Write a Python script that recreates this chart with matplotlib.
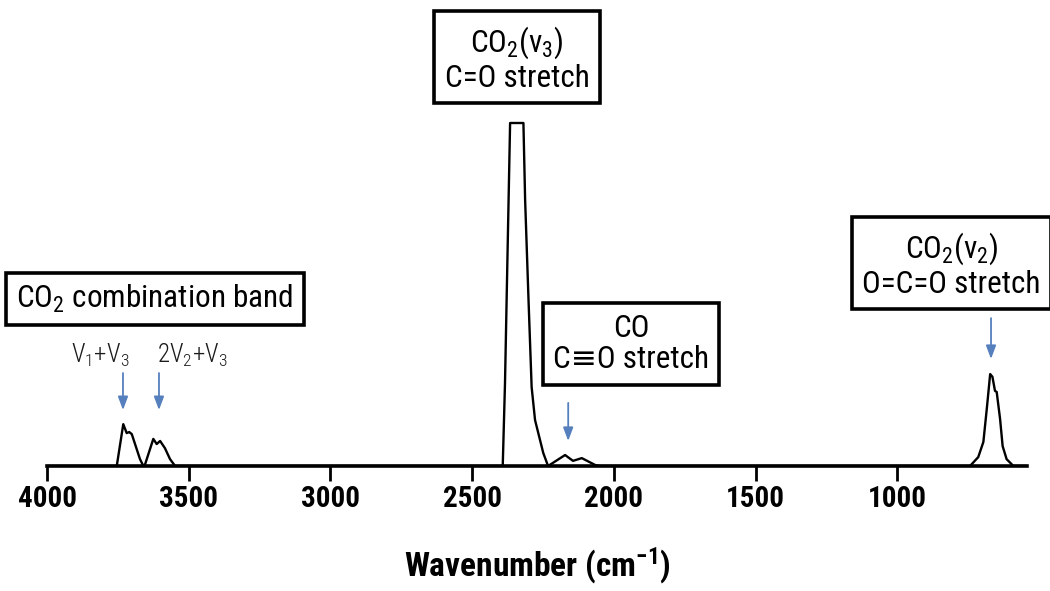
import matplotlib
matplotlib.use('Agg')
import matplotlib.pyplot as plt

# 窄体字体，刻度和标注都用它
plt.rcParams['font.family'] = ['Roboto Condensed', 'DejaVu Sans']
plt.rcParams['mathtext.fontset'] = 'custom'
plt.rcParams['mathtext.rm'] = 'Roboto Condensed'

# 读出的FTIR谱线 (波数 cm-1, 吸光度)
wavenumber = [4000, 3754, 3731, 3719, 3710, 3701, 3672, 3660, 3654, 3625, 3613,
              3601, 3584, 3566, 3548,
              2392, 2384, 2376, 2366, 2319, 2313, 2301, 2290, 2278, 2249, 2232,
              2172, 2144, 2113, 2066, 2048,
              743, 714, 696, 684, 672, 664, 655, 649, 637, 628, 614, 590, 542]
absorbance = [0.0, 0.0, 0.122, 0.096, 0.099, 0.093, 0.020, 0.0, 0.005, 0.079, 0.064,
              0.073, 0.052, 0.020, 0.0,
              0.0, 0.242, 0.580, 1.0, 1.0, 0.776, 0.484, 0.230, 0.134, 0.038, 0.0,
              0.032, 0.015, 0.023, 0.003, 0.0,
              0.0, 0.026, 0.070, 0.166, 0.268, 0.260, 0.219, 0.216, 0.137, 0.058, 0.020, 0.0, 0.0]

xticks = [4000, 3500, 3000, 2500, 2000, 1500, 1000]

# 标注框: 文字, x, y
band_labels = [r'$\mathregular{CO_2(v_3)}$' + '\nC=O stretch',
               'CO\nC\u2261O stretch',
               r'$\mathregular{CO_2(v_2)}$' + '\nO=C=O stretch',
               r'$\mathregular{CO_2}$ combination band']
band_x = [2341, 1939, 808, 3619]
band_y = [1.188, 0.356, 0.586, 0.487]

# 箭头: x, 起点y, 终点y
arrow_x = [3732, 3605, 2161, 669]
arrow_top = [0.271, 0.271, 0.184, 0.431]
arrow_tip = [0.163, 0.163, 0.073, 0.312]

blue = '#5580BD'

fig = plt.figure(figsize=(10.5, 5.91), dpi=100)
ax = fig.add_axes([0.0448, 0.2115, 0.9333, 0.7885])

ax.plot(wavenumber, absorbance, color='black', lw=1.7, solid_joinstyle='round')
ax.set_xlim(4000, 542)
ax.set_ylim(0, 1.3586)

for s in ['left', 'right', 'top']:
    ax.spines[s].set_visible(False)
ax.spines['bottom'].set_linewidth(2.6)
ax.set_yticks([])
ax.set_xticks(xticks)
ax.tick_params(axis='x', direction='out', length=11, width=2, pad=3, labelsize=21)
for lab in ax.get_xticklabels():
    lab.set_fontweight('bold')
ax.set_xlabel(r'Wavenumber (cm$\mathregular{^{-1}}$)', fontsize=24,
              fontweight='bold', labelpad=23)

for txt, x, y in zip(band_labels, band_x, band_y):
    ax.text(x, y, txt, ha='center', va='center', multialignment='center',
            fontsize=22.5, linespacing=1.12,
            bbox=dict(boxstyle='square,pad=0.33', fc='white', ec='black', lw=2.6))

for x, y0, y1 in zip(arrow_x, arrow_top, arrow_tip):
    ax.annotate('', xy=(x, y1), xytext=(x, y0),
                arrowprops=dict(arrowstyle='-|>,head_length=0.8,head_width=0.3',
                                color=blue, lw=1.3, shrinkA=0, shrinkB=0))

ax.text(3813, 0.300, r'$\mathregular{V_1{+}V_3}$', ha='center', va='baseline',
        fontsize=18, fontweight='light', color='#1a1a1a')
ax.text(3612, 0.300, r'$\mathregular{2V_2{+}V_3}$', ha='left', va='baseline',
        fontsize=18, fontweight='light', color='#1a1a1a')

fig.savefig('out.png', dpi=100)
